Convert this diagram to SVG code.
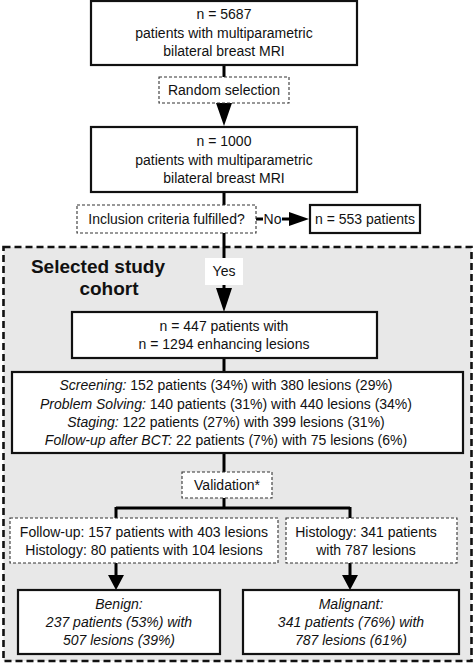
<svg xmlns="http://www.w3.org/2000/svg" width="474" height="663" viewBox="0 0 474 663">
<style>
text{font-family:"Liberation Sans",Arial,sans-serif;font-size:14px;fill:#111;text-anchor:middle}
.it{font-style:italic}
.solid{fill:#fff;stroke:#111;stroke-width:2.2}
.dash{fill:#fff;stroke:#333;stroke-width:1.1;stroke-dasharray:3,2}
.ln{stroke:#000;stroke-width:3;fill:none}
.ah{fill:#000}
</style>
<rect width="474" height="663" fill="#fff"/>
<g id="cohort">
<rect x="3.5" y="247" width="468" height="414" fill="#e8e8e8" stroke="#111" stroke-width="2.6" stroke-dasharray="7,4"/>
<text x="98" y="273" style="font-size:19px;font-weight:bold">Selected study</text>
<text x="109" y="295" style="font-size:19px;font-weight:bold">cohort</text>
</g>
<g id="connectors">
<path class="ln" d="M224 65V104M224 192V205M224 233V290M224 358V372M224 453V472M224 498V508M116 508H350M116 507V518M350 507V518M116 563V577M350 563V577M256 219H263M282 219H292"/>
<polygon class="ah" points="216,103 232,103 224,126"/>
<polygon class="ah" points="216,288 232,288 224,312"/>
<polygon class="ah" points="108,575 124,575 116,590"/>
<polygon class="ah" points="342,575 358,575 350,590"/>
<polygon class="ah" points="289,212 289,226 309,219"/>
<rect x="205" y="258" width="38" height="27" fill="#fff"/>
<text x="224" y="276">Yes</text>
<text x="272.5" y="224">No</text>
</g>
<g id="n5687">
<rect class="solid" x="91" y="1" width="266" height="64"/>
<text x="224" y="19">n = 5687</text>
<text x="224" y="38">patients with multiparametric</text>
<text x="224" y="56">bilateral breast MRI</text>
</g>
<g id="random">
<rect class="dash" x="159" y="77" width="130" height="26"/>
<text x="224" y="95">Random selection</text>
</g>
<g id="n1000">
<rect class="solid" x="91" y="127" width="266" height="65"/>
<text x="224" y="146">n = 1000</text>
<text x="224" y="165">patients with multiparametric</text>
<text x="224" y="183">bilateral breast MRI</text>
</g>
<g id="inclusion">
<rect class="dash" x="77" y="205" width="179" height="28"/>
<text x="166.5" y="224">Inclusion criteria fulfilled?</text>
</g>
<g id="n553">
<rect class="solid" x="310" y="205" width="110" height="28"/>
<text x="365" y="224">n = 553 patients</text>
</g>
<g id="n447">
<rect class="solid" x="72" y="312" width="305" height="46"/>
<text x="224" y="331">n = 447 patients with</text>
<text x="224" y="349">n = 1294 enhancing lesions</text>
</g>
<g id="indications">
<rect class="solid" x="12" y="372" width="451" height="81"/>
<text x="226" y="390"><tspan class="it">Screening:</tspan> 152 patients (34%) with 380 lesions (29%)</text>
<text x="226" y="409"><tspan class="it">Problem Solving:</tspan> 140 patients (31%) with 440 lesions (34%)</text>
<text x="226" y="427"><tspan class="it">Staging:</tspan> 122 patients (27%) with 399 lesions (31%)</text>
<text x="226" y="445"><tspan class="it">Follow-up after BCT:</tspan> 22 patients (7%) with 75 lesions (6%)</text>
</g>
<g id="validation">
<rect class="dash" x="182" y="472" width="90" height="26"/>
<text x="227" y="490">Validation*</text>
</g>
<g id="benign-validation">
<rect class="dash" x="10" y="518" width="268" height="45"/>
<text x="144" y="537">Follow-up: 157 patients with 403 lesions</text>
<text x="144" y="555">Histology: 80 patients with 104 lesions</text>
</g>
<g id="malignant-validation">
<rect class="dash" x="286" y="518" width="171" height="45"/>
<text x="366" y="537">Histology: 341 patients</text>
<text x="366" y="555">with 787 lesions</text>
</g>
<g id="benign">
<rect class="solid" x="18" y="590" width="202" height="64"/>
<text class="it" x="119" y="609">Benign:</text>
<text class="it" x="119" y="627">237 patients (53%) with</text>
<text class="it" x="119" y="645">507 lesions (39%)</text>
</g>
<g id="malignant">
<rect class="solid" x="243" y="590" width="216" height="64"/>
<text class="it" x="351" y="609">Malignant:</text>
<text class="it" x="351" y="627">341 patients (76%) with</text>
<text class="it" x="351" y="645">787 lesions (61%)</text>
</g>
</svg>
